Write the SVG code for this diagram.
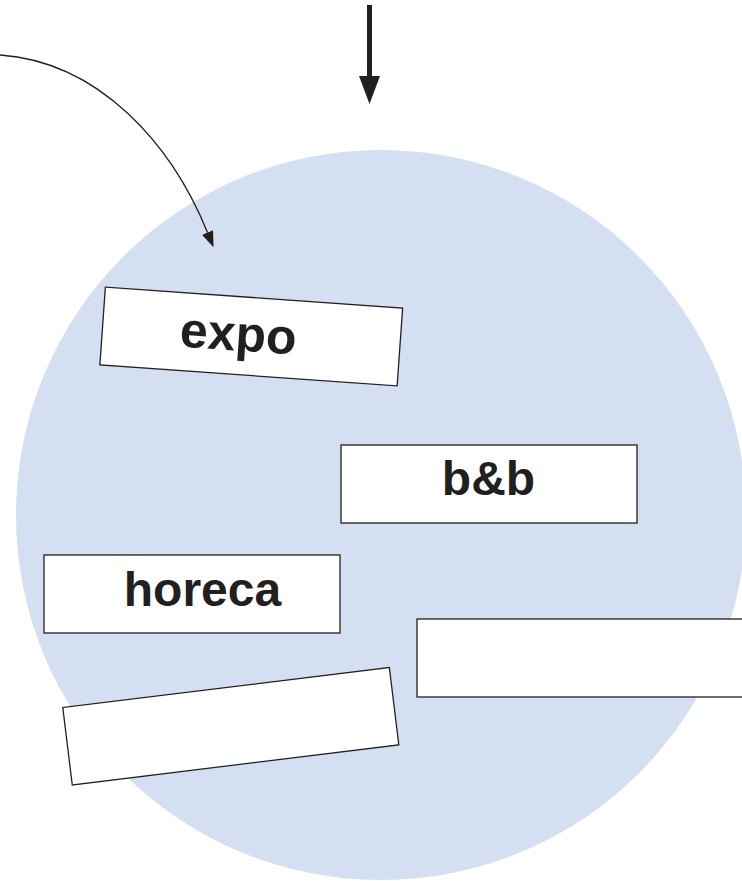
<svg xmlns="http://www.w3.org/2000/svg" width="742" height="881" viewBox="0 0 742 881">
  <style>
    .box { fill: #ffffff; stroke: #231f20; stroke-width: 1.3; }
    .lbl { font-family: "Liberation Sans", Arial, sans-serif; font-weight: bold; font-size: 48px; fill: #231f20; text-anchor: middle; }
    .conn { fill: none; stroke: #231f20; }
  </style>
  <defs>
    <marker id="headBig" markerUnits="userSpaceOnUse" markerWidth="28" markerHeight="22" refX="0" refY="10.5" orient="auto">
      <path d="M0,0 L28,10.5 L0,21 z" fill="#231f20"/>
    </marker>
    <marker id="headSmall" markerUnits="userSpaceOnUse" markerWidth="17" markerHeight="13" refX="0" refY="6" orient="auto">
      <path d="M0,0 L16,6 L0,12 z" fill="#231f20"/>
    </marker>
  </defs>
  <rect width="742" height="881" fill="#ffffff"/>
  <circle id="circle" cx="381" cy="515" r="365" fill="#d4e0f2"/>
  <g id="connectors">
    <line class="conn" x1="369.5" y1="5" x2="369.5" y2="76" stroke-width="5" marker-end="url(#headBig)"/>
    <path class="conn" d="M0,55 C100,62 172,145 207.5,232.5" stroke-width="1.3" marker-end="url(#headSmall)"/>
  </g>
  <g id="expo" transform="translate(251.25,336.5) rotate(4.04)">
    <rect class="box" x="-149" y="-39" width="298" height="78"/>
    <text class="lbl" x="-13" y="15" style="font-size:50px">expo</text>
  </g>
  <g id="bnb">
    <rect class="box" x="341" y="445" width="296" height="78"/>
    <text class="lbl" x="488.5" y="495">b&amp;b</text>
  </g>
  <g id="horeca">
    <rect class="box" x="44" y="555" width="296" height="78"/>
    <text class="lbl" x="202.5" y="606">horeca</text>
  </g>
  <g id="box-right">
    <rect class="box" x="417" y="619" width="335" height="78"/>
  </g>
  <g id="box-bottom-left" transform="translate(230.8,726.2) rotate(-6.98)">
    <rect class="box" x="-164.5" y="-39" width="329" height="78"/>
  </g>
</svg>
